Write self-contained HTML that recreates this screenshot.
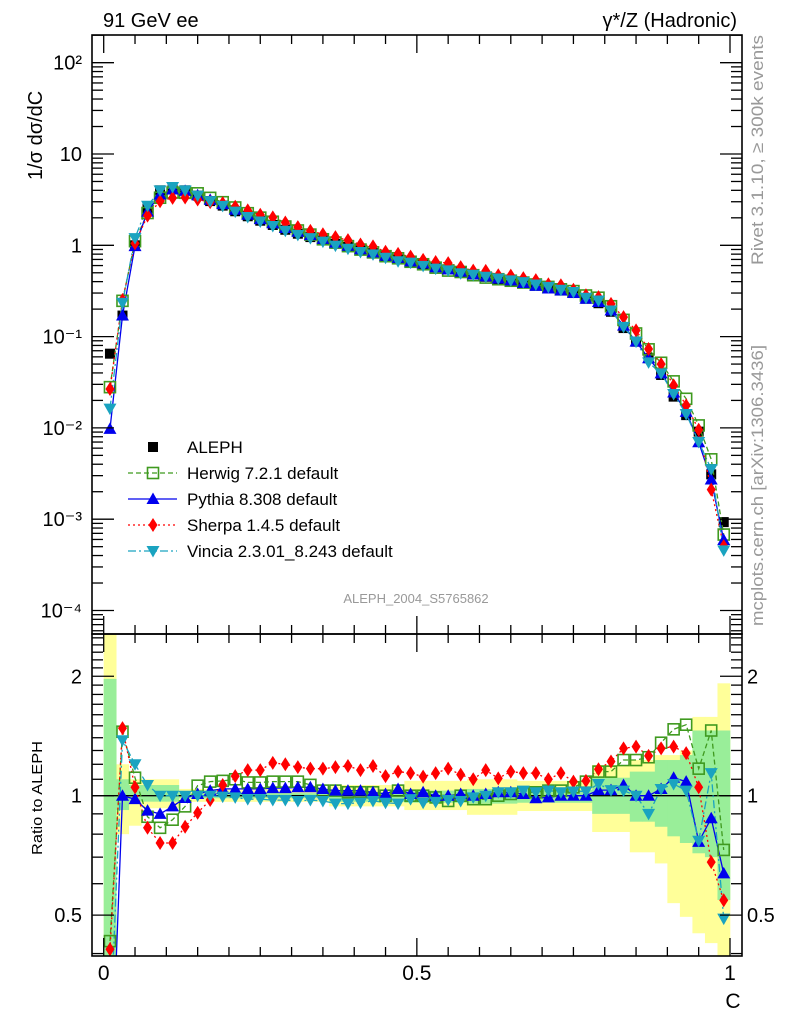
<!DOCTYPE html>
<html><head><meta charset="utf-8"><style>
html,body{margin:0;padding:0;background:#fff;overflow:hidden;width:786px;height:1024px}
svg{display:block;font-family:"Liberation Sans",sans-serif}
</style></head><body>
<svg id="chart" width="786" height="1024" viewBox="0 0 786 1024" xmlns="http://www.w3.org/2000/svg">
<defs>
<clipPath id="clipMain"><rect x="92" y="35" width="650" height="599"/></clipPath>
<clipPath id="clipRatio"><rect x="92" y="634" width="650" height="322"/></clipPath>
</defs>
<g id="bands" clip-path="url(#clipRatio)"></g>
<g id="series-main" clip-path="url(#clipMain)"></g>
<g id="series-ratio" clip-path="url(#clipRatio)"></g>
<g id="axes"></g>
<text x="103" y="27" font-size="20">91 GeV ee</text>
<text x="737" y="27" font-size="20" text-anchor="end">γ*/Z (Hadronic)</text>
<text transform="translate(42,180) rotate(-90)" font-size="20">1/σ  dσ/dC</text>
<text transform="translate(42,798) rotate(-90)" font-size="15" text-anchor="middle" textLength="114" lengthAdjust="spacingAndGlyphs">Ratio to ALEPH</text>
<text x="733" y="1008" font-size="21" text-anchor="middle">C</text>
<text transform="translate(763,265) rotate(-90)" font-size="17" fill="#999" textLength="230" lengthAdjust="spacingAndGlyphs">Rivet 3.1.10, ≥ 300k events</text>
<text transform="translate(763,626) rotate(-90)" font-size="17" fill="#999" textLength="281" lengthAdjust="spacingAndGlyphs">mcplots.cern.ch [arXiv:1306.3436]</text>
<text x="416" y="603" font-size="13" fill="#999" text-anchor="middle">ALEPH_2004_S5765862</text>
<g id="legend"></g>
</svg>
<script>
const binCenters=[0.01,0.03,0.05,0.07,0.09,0.11,0.13,0.15,0.17,0.19,0.21,0.23,0.25,0.27,0.29,0.31,0.33,0.35,0.37,0.39,0.41,0.43,0.45,0.47,0.49,0.51,0.53,0.55,0.57,0.59,0.61,0.63,0.65,0.67,0.69,0.71,0.73,0.75,0.77,0.79,0.81,0.83,0.85,0.87,0.89,0.91,0.93,0.95,0.97,0.99];
const alephValues=[0.065,0.17,1.0,2.55,4.0,4.35,4.0,3.5,3.05,2.72,2.36,2.08,1.86,1.67,1.48,1.34,1.23,1.13,1.04,0.96,0.88,0.82,0.76,0.70,0.66,0.62,0.575,0.545,0.51,0.48,0.452,0.425,0.405,0.383,0.365,0.34,0.32,0.30,0.26,0.232,0.187,0.124,0.088,0.058,0.038,0.022,0.0138,0.0091,0.0031,0.00093];
const herwigRatio=[0.43,1.45,1.11,0.885,0.83,0.87,0.94,1.06,1.085,1.09,1.1,1.08,1.08,1.085,1.085,1.085,1.065,1.03,1.03,1.02,1.02,1.02,1.0,1.03,1.0,1.0,0.99,0.97,1.0,0.98,0.98,1.0,1.01,1.02,1.02,1.03,1.03,1.05,1.085,1.15,1.15,1.23,1.23,1.25,1.36,1.47,1.51,1.17,1.46,0.73];
const pythiaRatio=[0.15,1.0,0.98,0.917,0.9,0.94,0.987,1.01,1.03,1.04,1.04,1.04,1.04,1.045,1.045,1.05,1.05,1.04,1.03,1.03,1.03,1.02,1.01,1.04,1.01,1.02,1.0,1.0,1.01,1.0,1.01,1.02,1.02,1.01,0.985,0.99,1.0,1.0,1.0,1.033,1.033,1.064,1.0,1.0,1.04,1.11,1.085,0.765,0.877,0.637];
const sherpaRatio=[0.41,1.48,1.05,0.83,0.76,0.76,0.835,0.906,0.975,1.064,1.12,1.16,1.16,1.21,1.2,1.18,1.17,1.17,1.18,1.188,1.16,1.188,1.12,1.15,1.14,1.117,1.14,1.17,1.13,1.10,1.16,1.106,1.15,1.14,1.14,1.10,1.14,1.085,1.09,1.166,1.22,1.316,1.33,1.26,1.316,1.33,1.28,1.05,0.68,0.545];
const vinciaRatio=[0.25,1.38,1.2,1.064,1.0,1.0,1.0,1.0,1.0,0.995,0.99,0.98,0.98,0.975,0.975,0.97,0.975,0.97,0.955,0.955,0.96,0.97,0.96,0.955,0.98,0.96,0.965,0.975,0.97,0.99,1.0,1.02,1.02,1.03,1.02,1.03,1.02,1.025,1.025,1.07,1.033,1.03,1.0,0.9,1.04,1.07,1.03,0.77,1.14,0.49];
const totalBandHi=[3,1.2,1.1,1.1,1.1,1.1,1.04,1.04,1.04,1.04,1.04,1.04,1.04,1.04,1.04,1.04,1.04,1.04,1.064,1.064,1.064,1.064,1.064,1.064,1.09,1.09,1.09,1.09,1.09,1.1,1.1,1.1,1.1,1.09,1.09,1.09,1.09,1.09,1.09,1.195,1.195,1.195,1.23,1.23,1.266,1.266,1.30,1.58,1.58,1.92];
const totalBandLo=[0.3,0.8,0.84,0.93,0.93,0.93,0.965,0.965,0.965,0.965,0.965,0.965,0.965,0.965,0.965,0.965,0.965,0.965,0.94,0.94,0.94,0.94,0.94,0.94,0.92,0.92,0.92,0.92,0.92,0.895,0.895,0.895,0.895,0.915,0.915,0.915,0.915,0.915,0.915,0.81,0.81,0.81,0.72,0.72,0.675,0.536,0.495,0.45,0.425,0.38];
const statBandHi=[1.97,1.1,1.064,1.064,1.064,1.064,1.015,1.015,1.015,1.015,1.015,1.015,1.015,1.015,1.015,1.015,1.015,1.015,1.02,1.02,1.02,1.02,1.02,1.02,1.03,1.03,1.03,1.03,1.03,1.04,1.04,1.04,1.04,1.035,1.035,1.035,1.035,1.035,1.035,1.11,1.11,1.11,1.15,1.15,1.23,1.23,1.266,1.46,1.46,1.46];
const statBandLo=[0.3,0.92,0.966,0.966,0.966,0.966,0.985,0.985,0.985,0.985,0.985,0.985,0.985,0.985,0.985,0.985,0.985,0.985,0.965,0.965,0.965,0.965,0.965,0.965,0.96,0.96,0.96,0.96,0.96,0.955,0.955,0.955,0.955,0.96,0.96,0.96,0.96,0.96,0.96,0.90,0.90,0.90,0.86,0.86,0.835,0.79,0.76,0.716,0.70,0.546];
const mainTickLabels=["10⁻⁴","10⁻³","10⁻²","10⁻¹","1","10","10²"];
const ratioTickLabels=["0.5","1","2"];
const xTickLabels=["0","0.5","1"];

const NS="http://www.w3.org/2000/svg";
const X0=103.7,XW=626.3;
const xs=c=>X0+XW*c;
const yMain=v=>245.3-91.3*Math.log10(v);
const yRat=r=>795.7-396.7*Math.log10(r);
function mk(tag,attrs,parent){const e=document.createElementNS(NS,tag);for(const k in attrs)e.setAttribute(k,attrs[k]);parent.appendChild(e);return e;}

const gB=document.getElementById('bands');
binCenters.forEach((c,i)=>{
  const xa=xs(c-0.01),xb=xs(c+0.01);
  const r1=mk('rect',{x:xa,y:yRat(totalBandHi[i]),width:xb-xa+0.3,height:yRat(totalBandLo[i])-yRat(totalBandHi[i]),fill:'#ffff99'},gB);
  
  
});
binCenters.forEach((c,i)=>{
  const xa=xs(c-0.01),xb=xs(c+0.01);
  const r2=mk('rect',{x:xa,y:yRat(statBandHi[i]),width:xb-xa+0.3,height:yRat(statBandLo[i])-yRat(statBandHi[i]),fill:'#99ee99'},gB);
  
  
});
const refLine=mk('line',{x1:92,x2:742,y1:yRat(1),y2:yRat(1),stroke:'#000','stroke-width':1.3},gB);



function marker(type,x,y,color,parent){
  let e;
  if(type==='sq') e=mk('rect',{x:x-5,y:y-5,width:10,height:10,fill:'#000'},parent);
  else if(type==='osq') e=mk('rect',{x:x-5.5,y:y-5.5,width:11,height:11,fill:'none',stroke:color,'stroke-width':1.6},parent);
  else if(type==='tu') e=mk('polygon',{points:`${x},${y-6.5} ${x-6.5},${y+5} ${x+6.5},${y+5}`,fill:color},parent);
  else if(type==='td') e=mk('polygon',{points:`${x},${y+6.5} ${x-6.5},${y-5} ${x+6.5},${y-5}`,fill:color},parent);
  else e=mk('polygon',{points:`${x},${y-7} ${x-4.5},${y} ${x},${y+7} ${x+4.5},${y}`,fill:color},parent);
  return e;
}
const series=[
  {name:'herwig',ratio:herwigRatio,color:'#3f9a1f',dash:'5,3',type:'osq'},
  {name:'pythia',ratio:pythiaRatio,color:'#0000ee',dash:'',type:'tu'},
  {name:'sherpa',ratio:sherpaRatio,color:'#ff0000',dash:'2,3',type:'di'},
  {name:'vincia',ratio:vinciaRatio,color:'#1aa3c0',dash:'8,3,2,3',type:'td'}
];
const gM=document.getElementById('series-main'),gR=document.getElementById('series-ratio');
binCenters.forEach((c,i)=>{
  const m=marker('sq',xs(c),yMain(alephValues[i]),'#000',gM);
  
  
});
series.forEach(s=>{
  const vals=alephValues.map((a,i)=>a*s.ratio[i]);
  const pm=vals.map((v,i)=>`${i?'L':'M'}${xs(binCenters[i]).toFixed(1)},${yMain(v).toFixed(1)}`).join('');
  const l1=mk('path',{d:pm,fill:'none',stroke:s.color,'stroke-width':1.3,'stroke-dasharray':s.dash},gM);
  
  
  const pr=s.ratio.map((r,i)=>`${i?'L':'M'}${xs(binCenters[i]).toFixed(1)},${yRat(r).toFixed(1)}`).join('');
  const l2=mk('path',{d:pr,fill:'none',stroke:s.color,'stroke-width':1.3,'stroke-dasharray':s.dash},gR);
  
  
});
series.forEach(s=>{
  binCenters.forEach((c,i)=>{
    const m1=marker(s.type,xs(c),yMain(alephValues[i]*s.ratio[i]),s.color,gM);
    
    
    const m2=marker(s.type,xs(c),yRat(s.ratio[i]),s.color,gR);
    
    
  });
});

const gA=document.getElementById('axes');
function ln(x1,y1,x2,y2,w){return mk('line',{x1,y1,x2,y2,stroke:'#000','stroke-width':w||1.3},gA);}
const f1=mk('rect',{x:92,y:35,width:650,height:599,fill:'none',stroke:'#000','stroke-width':1.6},gA);


const f2=mk('rect',{x:92,y:634,width:650,height:322,fill:'none',stroke:'#000','stroke-width':1.6},gA);


for(let d=-5;d<=2;d++){
  for(let m=1;m<=9;m++){
    const v=m*Math.pow(10,d);const y=yMain(v);
    if(y<35||y>634)continue;
    const L=m===1?22:11;
    ln(92,y,92+L,y);ln(742,y,742-L,y);
  }
}
mainTickLabels.forEach((t,i)=>{
  const y=yMain(Math.pow(10,i-4));
  const tx=mk('text',{x:82,y:y+7,'font-size':20,'text-anchor':'end'},gA);
  tx.textContent=t;
  
  
});
const rMinors=[0.4,0.5,0.6,0.7,0.8,0.9,1,1.1,1.2,1.3,1.4,1.5,1.6,1.7,1.8,1.9,2,2.1,2.2,2.3,2.4,2.5];
rMinors.forEach(r=>{
  const y=yRat(r);if(y<634||y>956)return;
  const maj=(r===0.5||r===1||r===2);const L=maj?22:11;
  ln(92,y,92+L,y);ln(742,y,742-L,y);
});
ratioTickLabels.forEach(t=>{
  const y=yRat(parseFloat(t));
  const a=mk('text',{x:82,y:y+7,'font-size':20,'text-anchor':'end'},gA);a.textContent=t;
  
  
  const b=mk('text',{x:747,y:y+7,'font-size':20},gA);b.textContent=t;
  
  
});
for(let k=0;k<=20;k++){
  const c=k*0.05;const x=xs(c);const maj=(k%10===0);const L=maj?18:9;
  ln(x,35,x,35+L);ln(x,634,x,634-L);ln(x,634,x,634+L);ln(x,956,x,956-L);
}
xTickLabels.forEach(t=>{
  const tx=mk('text',{x:xs(parseFloat(t)),y:980,'font-size':21,'text-anchor':'middle'},gA);
  tx.textContent=t;
  
  
});

const gL=document.getElementById('legend');
const legendItems=[
  {label:'ALEPH',type:'sq',color:'#000',dash:null},
  {label:'Herwig 7.2.1 default',type:'osq',color:'#3f9a1f',dash:'5,3'},
  {label:'Pythia 8.308 default',type:'tu',color:'#0000ee',dash:''},
  {label:'Sherpa 1.4.5 default',type:'di',color:'#ff0000',dash:'2,3'},
  {label:'Vincia 2.3.01_8.243 default',type:'td',color:'#1aa3c0',dash:'8,3,2,3'}
];
legendItems.forEach((it,i)=>{
  const y=447+26*i;
  const g=mk('g',{},gL);
  
  
  if(it.dash!==null) mk('line',{x1:128,x2:177,y1:y,y2:y,stroke:it.color,'stroke-width':1.3,'stroke-dasharray':it.dash},g);
  marker(it.type,153,y,it.color,g);
  const t=mk('text',{x:187,y:y+6,'font-size':17},g);t.textContent=it.label;
});
</script>
</body></html>
